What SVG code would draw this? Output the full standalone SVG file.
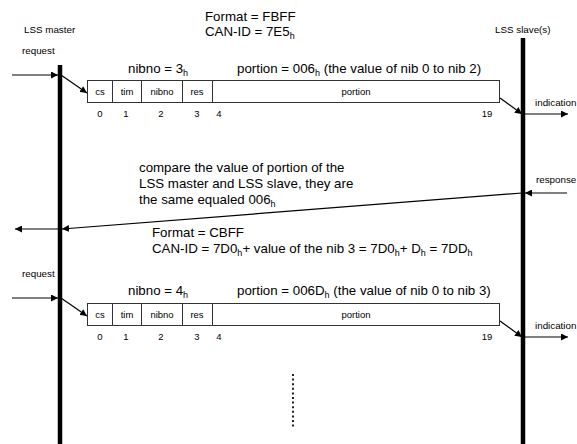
<svg xmlns="http://www.w3.org/2000/svg" width="577" height="444" viewBox="0 0 577 444">
<style>
text{font-family:"Liberation Sans",Arial,sans-serif;fill:#000}
.big{font-size:13.3px}
.sm{font-size:9.8px}
.cell{font-size:9.5px;text-anchor:middle}
.num{font-size:9.5px;text-anchor:middle}
.sub{font-size:9px}
.life{stroke:#000;stroke-width:4.5}
.conn{stroke:#000;stroke-width:1.2;fill:none}
.box{fill:#fff;stroke:#333;stroke-width:1}
</style>
<defs>
<marker id="ah" viewBox="0 0 10 10" refX="10" refY="5" markerWidth="7" markerHeight="7" markerUnits="userSpaceOnUse" orient="auto">
<path d="M0,0 L10,5 L0,10 z" fill="#000"/>
</marker>
</defs>
<g id="labels">
<text class="big" x="205" y="21">Format = FBFF</text>
<text class="big" x="205" y="36">CAN-ID = 7E5<tspan class="sub" dy="3">h</tspan></text>
<text class="sm" x="24" y="33">LSS master</text>
<text class="sm" x="495" y="33">LSS slave(s)</text>
<text class="sm" x="22" y="54">request</text>
<text class="sm" x="535" y="106">indication</text>
<text class="sm" x="536" y="183">response</text>
<text class="sm" x="22" y="277">request</text>
<text class="sm" x="535" y="329">indication</text>
<text class="big" x="139" y="172">compare the value of portion of the</text>
<text class="big" x="139" y="188">LSS master and LSS slave, they are</text>
<text class="big" x="139" y="204">the same equaled 006<tspan class="sub" dy="3">h</tspan></text>
<text class="big" x="152" y="237">Format = CBFF</text>
<text class="big" x="152" y="253">CAN-ID = 7D0<tspan class="sub" dy="3">h</tspan><tspan dy="-3">+ value of the nib 3 = 7D0</tspan><tspan class="sub" dy="3">h</tspan><tspan dy="-3">+ D</tspan><tspan class="sub" dy="3">h</tspan><tspan dy="-3"> = 7DD</tspan><tspan class="sub" dy="3">h</tspan></text>
</g>
<g id="lifelines">
<line class="life" x1="60" y1="65" x2="60" y2="444"/>
<line class="life" x1="523" y1="38" x2="523" y2="444"/>
</g>
<g id="frame1">
<text class="big" x="128" y="73">nibno = 3<tspan class="sub" dy="3">h</tspan></text>
<text class="big" x="237" y="73">portion = 006<tspan class="sub" dy="3">h</tspan><tspan dy="-3"> (the value of nib 0 to nib 2)</tspan></text>
<rect class="box" x="87.5" y="80.5" width="412" height="22"/>
<line class="box" x1="112.5" y1="80.5" x2="112.5" y2="102.5"/>
<line class="box" x1="141.5" y1="80.5" x2="141.5" y2="102.5"/>
<line class="box" x1="182.5" y1="80.5" x2="182.5" y2="102.5"/>
<line class="box" x1="212.5" y1="80.5" x2="212.5" y2="102.5"/>
<text class="cell" x="100" y="95">cs</text>
<text class="cell" x="127" y="95">tim</text>
<text class="cell" x="162" y="95">nibno</text>
<text class="cell" x="197" y="95">res</text>
<text class="cell" x="356" y="95">portion</text>
<text class="num" x="100" y="117">0</text>
<text class="num" x="126" y="117">1</text>
<text class="num" x="161" y="117">2</text>
<text class="num" x="197" y="117">3</text>
<text class="num" x="219" y="117">4</text>
<text class="num" x="487" y="117">19</text>
</g>
<g id="frame2">
<text class="big" x="128" y="295">nibno = 4<tspan class="sub" dy="3">h</tspan></text>
<text class="big" x="237" y="295">portion = 006D<tspan class="sub" dy="3">h</tspan><tspan dy="-3"> (the value of nib 0 to nib 3)</tspan></text>
<rect class="box" x="87.5" y="303.5" width="412" height="22"/>
<line class="box" x1="112.5" y1="303.5" x2="112.5" y2="325.5"/>
<line class="box" x1="141.5" y1="303.5" x2="141.5" y2="325.5"/>
<line class="box" x1="182.5" y1="303.5" x2="182.5" y2="325.5"/>
<line class="box" x1="212.5" y1="303.5" x2="212.5" y2="325.5"/>
<text class="cell" x="100" y="318">cs</text>
<text class="cell" x="127" y="318">tim</text>
<text class="cell" x="162" y="318">nibno</text>
<text class="cell" x="197" y="318">res</text>
<text class="cell" x="356" y="318">portion</text>
<text class="num" x="100" y="340">0</text>
<text class="num" x="126" y="340">1</text>
<text class="num" x="161" y="340">2</text>
<text class="num" x="197" y="340">3</text>
<text class="num" x="219" y="340">4</text>
<text class="num" x="487" y="340">19</text>
</g>
<g id="connectors">
<line class="conn" x1="12" y1="75" x2="58" y2="75" marker-end="url(#ah)"/>
<line class="conn" x1="61" y1="75" x2="87" y2="93" marker-end="url(#ah)"/>
<line class="conn" x1="500" y1="98" x2="522" y2="114" marker-end="url(#ah)"/>
<line class="conn" x1="524" y1="114" x2="568" y2="114" marker-end="url(#ah)"/>
<line class="conn" x1="567" y1="193" x2="525" y2="193" marker-end="url(#ah)"/>
<line class="conn" x1="522" y1="193" x2="62" y2="229" marker-end="url(#ah)"/>
<line class="conn" x1="58" y1="229" x2="15" y2="229" marker-end="url(#ah)"/>
<line class="conn" x1="12" y1="298" x2="58" y2="298" marker-end="url(#ah)"/>
<line class="conn" x1="61" y1="298" x2="87" y2="316" marker-end="url(#ah)"/>
<line class="conn" x1="500" y1="321" x2="522" y2="337" marker-end="url(#ah)"/>
<line class="conn" x1="524" y1="337" x2="568" y2="337" marker-end="url(#ah)"/>
<line stroke="#222" stroke-width="2" stroke-dasharray="2,2.6" x1="293" y1="374" x2="293" y2="428"/>
</g>
</svg>
